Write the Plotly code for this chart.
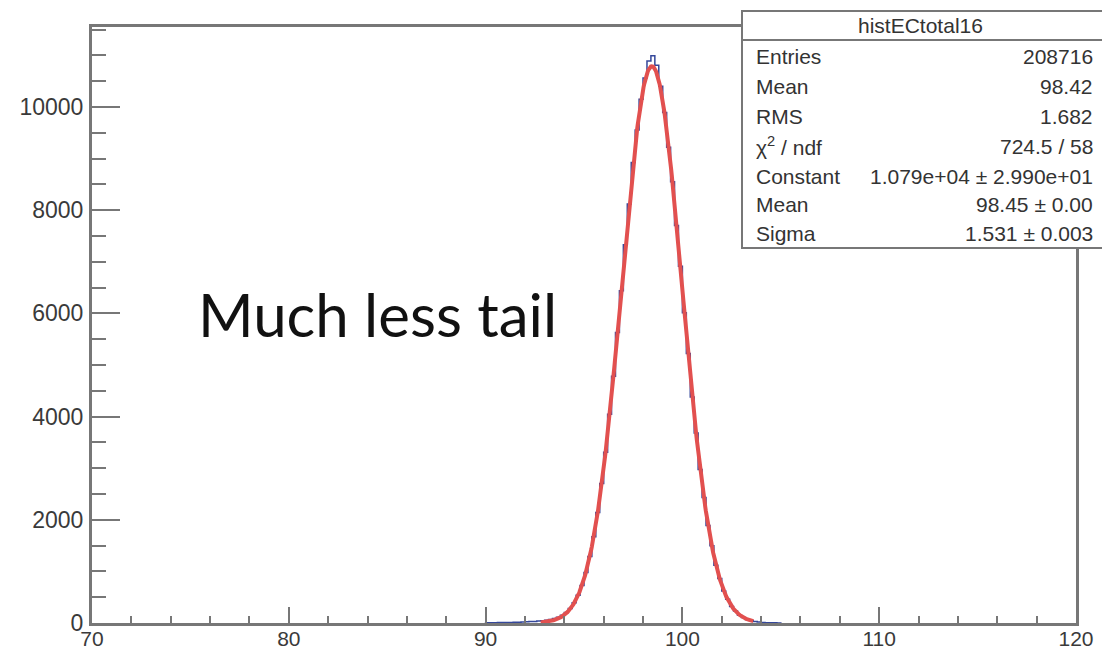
import numpy as np
import plotly.graph_objects as go

# Histogram "histECtotal16": bin contents, 0.2-wide bins starting at 90.0
hist_name = "histECtotal16"
hist_start = 90.0
bin_width = 0.2
counts = [
    4, 6, 5, 8, 9, 11, 10, 14, 16, 19,
    22, 27, 31, 38, 44, 55, 68, 86, 112, 150,
    205, 281, 392, 540, 728, 978, 1290, 1672, 2141, 2702,
    3310, 4045, 4780, 5630, 6441, 7330, 8120, 8925, 9552, 10148,
    10560, 10890, 10995, 10810, 10402, 9895, 9218, 8551, 7702, 6915,
    6010, 5224, 4380, 3681, 2975, 2430, 1889, 1497, 1120, 862,
    618, 462, 318, 233, 152, 109, 68, 49, 28, 20,
    12, 7, 5, 3, 2,
]

# Gaussian fit result
fit_constant = 1.079e4
fit_mean = 98.45
fit_sigma = 1.531
fit_range = (92.8, 103.6)

# Statistics box rows
stat_labels = ["Entries", "Mean", "RMS", "χ<sup>2</sup> / ndf", "Constant", "Mean", "Sigma"]
stat_values = ["208716", "98.42", "1.682", "724.5 / 58",
               "1.079e+04 ± 2.990e+01", "98.45 ± 0.00", "1.531 ± 0.003"]

x_ticks = [70, 80, 90, 100, 110, 120]
y_ticks = [0, 2000, 4000, 6000, 8000, 10000]
y_tick_text = ["0", "2000", "4000", "6000", "8000", "10000"]

# Step outline of the histogram
edges = hist_start + bin_width * np.arange(len(counts) + 1)
step_x = np.concatenate([[edges[0]], edges])
step_y = np.concatenate([[0], counts, [0]])

fx = np.linspace(fit_range[0], fit_range[1], 400)
fy = fit_constant * np.exp(-0.5 * ((fx - fit_mean) / fit_sigma) ** 2)

W, H = 1102, 652
L, R, T, B = 92, 1076, 27, 623


def px(x):
    return (x - L) / (R - L)


def py(y):
    return (B - y) / (B - T)


fig = go.Figure()
fig.add_trace(go.Scatter(x=step_x, y=step_y, mode="lines", line_shape="hv",
                         line=dict(color="#34479a", width=1.5), hoverinfo="skip"))
fig.add_trace(go.Scatter(x=fx, y=fy, mode="lines",
                         line=dict(color="#e2504f", width=4), hoverinfo="skip"))

x_font = dict(family="Liberation Sans, Arial, sans-serif", size=21, color="#3a3a3a")
y_font = dict(family="Liberation Sans, Arial, sans-serif", size=23, color="#3a3a3a")
fig.update_xaxes(range=[70, 120], tickvals=x_ticks, ticks="inside", ticklen=16,
                 tickwidth=2, tickcolor="#777", showline=True, linecolor="#777",
                 linewidth=3, mirror=True, showgrid=False, zeroline=False,
                 tickfont=x_font, ticklabelstandoff=-5, automargin=False,
                 minor=dict(dtick=2, tick0=70, ticks="inside", ticklen=7,
                            tickwidth=2, tickcolor="#777", showgrid=False))
fig.update_yaxes(range=[0, 11550], tickvals=y_ticks, ticktext=y_tick_text,
                 ticks="inside", ticklen=28,
                 tickwidth=2, tickcolor="#777", showline=True, linecolor="#777",
                 linewidth=3, mirror=True, showgrid=False, zeroline=False,
                 tickfont=y_font, ticklabelstandoff=1, automargin=False,
                 minor=dict(dtick=500, tick0=0, ticks="inside", ticklen=14,
                            tickwidth=2, tickcolor="#777", showgrid=False))

# Statistics box
box_l, box_r, box_t, box_b, sep = 742, 1104, 11, 248, 40
fig.add_shape(type="rect", xref="paper", yref="paper",
              x0=px(box_l), x1=px(box_r), y0=py(box_b), y1=py(box_t),
              line=dict(color="#777", width=2), fillcolor="white", layer="above")
fig.add_shape(type="line", xref="paper", yref="paper",
              x0=px(box_l), x1=px(box_r), y0=py(sep), y1=py(sep),
              line=dict(color="#777", width=2), layer="above")

stat_font = dict(family="Liberation Sans, Arial, sans-serif", size=21, color="#333")
fig.add_annotation(xref="paper", yref="paper", x=px(920), y=py(26),
                   text=hist_name, showarrow=False, font=stat_font,
                   xanchor="center", yanchor="middle")
row_y = [57, 87, 116, 146, 176, 205, 233]
for lab, val, ry in zip(stat_labels, stat_values, row_y):
    fig.add_annotation(xref="paper", yref="paper", x=px(754), y=py(ry), text=lab,
                       showarrow=False, font=stat_font, xanchor="left", yanchor="middle")
    fig.add_annotation(xref="paper", yref="paper", x=px(1095), y=py(ry), text=val,
                       showarrow=False, font=stat_font, xanchor="right", yanchor="middle")

fig.add_annotation(xref="paper", yref="paper", x=px(377), y=py(314),
                   text="Much less tail", showarrow=False,
                   font=dict(family="Lato, sans-serif", size=60, color="#111"),
                   xanchor="center", yanchor="middle")

fig.update_layout(width=W, height=H, margin=dict(l=L, r=W - R, t=T, b=H - B),
                  paper_bgcolor="white", plot_bgcolor="white", showlegend=False)

fig.write_html("out.html")
